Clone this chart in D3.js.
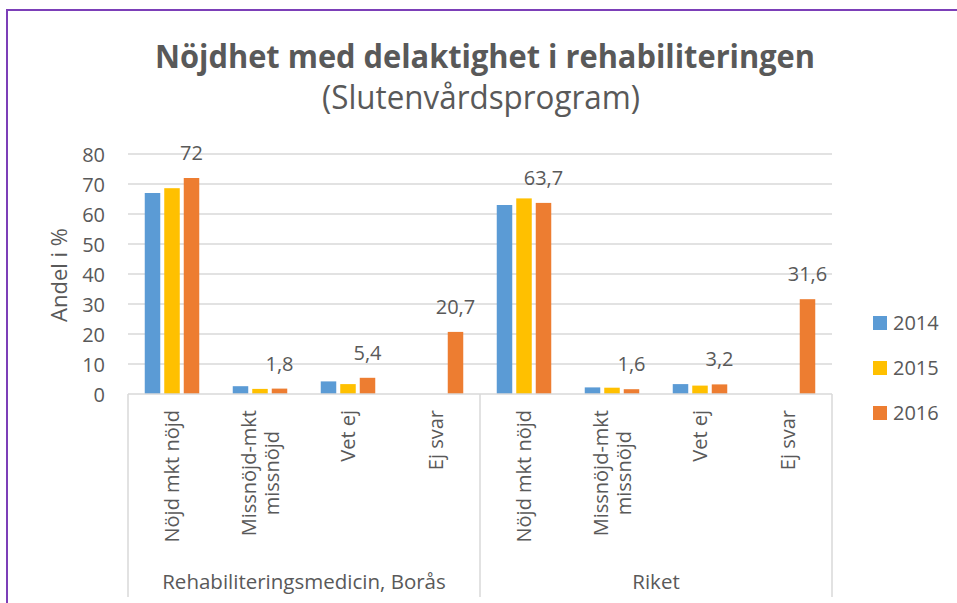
<!DOCTYPE html>
<html>
<head>
<meta charset="utf-8">
<script src="https://cdn.jsdelivr.net/npm/d3@7"></script>
<style>
  body { margin: 0; background: #fff; }
  text { font-family: "Open Sans", "Noto Sans", sans-serif; fill: #595959; }
</style>
</head>
<body>
<svg id="chart"></svg>
<script>
// Chart data
var groups = ["Rehabiliteringsmedicin, Borås", "Riket"];
var categories = ["Nöjd mkt nöjd", "Missnöjd-mkt\nmissnöjd", "Vet ej", "Ej svar"];
var years = ["2014", "2015", "2016"];
var colors = ["#5B9BD5", "#FFC000", "#ED7D31"];
var yTicks = [0, 10, 20, 30, 40, 50, 60, 70, 80];

// values per year, order: Borås x 4 categories, then Riket x 4 categories
var v2014 = [67, 2.6, 4.2, null, 63, 2.2, 3.3, null];
var v2015 = [68.6, 1.7, 3.3, null, 65.2, 2.1, 2.8, null];
var v2016 = [72, 1.8, 5.4, 20.7, 63.7, 1.6, 3.2, 31.6];
var series = [v2014, v2015, v2016];

var w = 957, h = 603;
var svg = d3.select("#chart").attr("width", w).attr("height", h);

// frame
svg.append("rect")
    .attr("x", 7).attr("y", 10)
    .attr("width", 960).attr("height", 620)
    .attr("fill", "none")
    .attr("stroke", "#7c3fb8")
    .attr("stroke-width", 2);

// titles
svg.append("text")
    .attr("x", 485).attr("y", 68)
    .attr("text-anchor", "middle")
    .attr("font-size", "33px")
    .attr("font-weight", "bold")
    .attr("textLength", 660)
    .attr("lengthAdjust", "spacingAndGlyphs")
    .text("Nöjdhet med delaktighet i rehabiliteringen");

svg.append("text")
    .attr("x", 481).attr("y", 109)
    .attr("text-anchor", "middle")
    .attr("font-size", "32px")
    .attr("textLength", 318)
    .attr("lengthAdjust", "spacingAndGlyphs")
    .text("(Slutenvårdsprogram)");

// scales
var plotLeft = 128, plotRight = 832, plotBottom = 394, plotTop = 154;
var keys = [];
groups.forEach(function(g, gi) {
    categories.forEach(function(c, ci) { keys.push(gi * categories.length + ci); });
});

var x0 = d3.scaleBand().domain(keys).range([plotLeft, plotRight]);
var x1 = d3.scaleBand().domain(years).range([-27.25, 27.25]).paddingInner(0.205);
var y = d3.scaleLinear().domain([0, 80]).range([plotBottom, plotTop]);

// gridlines
svg.append("g")
    .selectAll("line")
    .data(yTicks.filter(function(t) { return t > 0; }))
    .enter().append("line")
    .attr("x1", plotLeft).attr("x2", plotRight)
    .attr("y1", function(d) { return y(d); })
    .attr("y2", function(d) { return y(d); })
    .attr("stroke", "#d9d9d9")
    .attr("stroke-width", 1.5);

// y axis labels
var yAxis = d3.axisLeft(y).tickValues(yTicks).tickSize(0).tickPadding(0);
var gy = svg.append("g")
    .attr("transform", "translate(105,0)")
    .call(yAxis);
gy.select(".domain").remove();
gy.selectAll("text")
    .attr("font-size", "20px")
    .attr("fill", "#595959")
    .attr("font-family", "'Open Sans', sans-serif")
    .attr("dy", "0.35em");

svg.append("text")
    .attr("transform", "translate(67,275) rotate(-90)")
    .attr("text-anchor", "middle")
    .attr("font-size", "22px")
    .text("Andel i %");

// bars
years.forEach(function(yr, si) {
    var vals = series[si];
    svg.append("g")
        .selectAll("rect")
        .data(keys.filter(function(k) { return vals[k] != null; }))
        .enter().append("rect")
        .attr("x", function(k) { return x0(k) + x0.bandwidth() / 2 + x1(yr); })
        .attr("width", x1.bandwidth())
        .attr("y", function(k) { return y(vals[k]); })
        .attr("height", function(k) { return y(0) - y(vals[k]); })
        .attr("fill", colors[si]);
});

// data labels (2016 only)
svg.append("g")
    .selectAll("text")
    .data(keys)
    .enter().append("text")
    .attr("x", function(k) { return x0(k) + x0.bandwidth() / 2 + x1("2016") + x1.bandwidth() / 2; })
    .attr("y", function(k) { return y(v2016[k]) - 18; })
    .attr("text-anchor", "middle")
    .attr("font-size", "20px")
    .attr("fill", "#404040")
    .text(function(k) { return String(v2016[k]).replace(".", ","); });

// axis box below plot
var box = svg.append("g").attr("stroke", "#d9d9d9").attr("stroke-width", 1.5);
box.append("line").attr("x1", plotLeft).attr("x2", plotRight).attr("y1", plotBottom).attr("y2", plotBottom);
[plotLeft, (plotLeft + plotRight) / 2, plotRight].forEach(function(xv) {
    box.append("line").attr("x1", xv).attr("x2", xv).attr("y1", plotBottom).attr("y2", 597);
});

// category labels, rotated
var catG = svg.append("g");
keys.forEach(function(k) {
    var lines = categories[k % categories.length].split("\n");
    var cx = x0(k) + x0.bandwidth() / 2;
    var lh = 23;
    var g = catG.append("g");
    var texts = lines.map(function(l) {
        return g.append("text").attr("font-size", "20px").attr("text-anchor", "middle").text(l);
    });
    var maxLen = d3.max(texts, function(t) { return t.node().getComputedTextLength(); });
    var cy = 410 + maxLen / 2;
    texts.forEach(function(t, i) {
        var lx = cx + (i - (lines.length - 1) / 2) * lh + 7;
        t.attr("transform", "translate(" + lx + "," + cy + ") rotate(-90)");
    });
});

// group labels
svg.append("g")
    .selectAll("text")
    .data(groups)
    .enter().append("text")
    .attr("x", function(d, i) { return plotLeft + (plotRight - plotLeft) / 4 * (2 * i + 1); })
    .attr("y", 589)
    .attr("text-anchor", "middle")
    .attr("font-size", "20.5px")
    .text(function(d) { return d; });

// legend
var leg = svg.append("g").attr("transform", "translate(873,316)");
years.forEach(function(yr, i) {
    leg.append("rect")
        .attr("x", 0).attr("y", i * 45)
        .attr("width", 14).attr("height", 14)
        .attr("fill", colors[i]);
    leg.append("text")
        .attr("x", 20).attr("y", i * 45 + 14)
        .attr("font-size", "20px")
        .text(yr);
});
</script>
</body>
</html>
